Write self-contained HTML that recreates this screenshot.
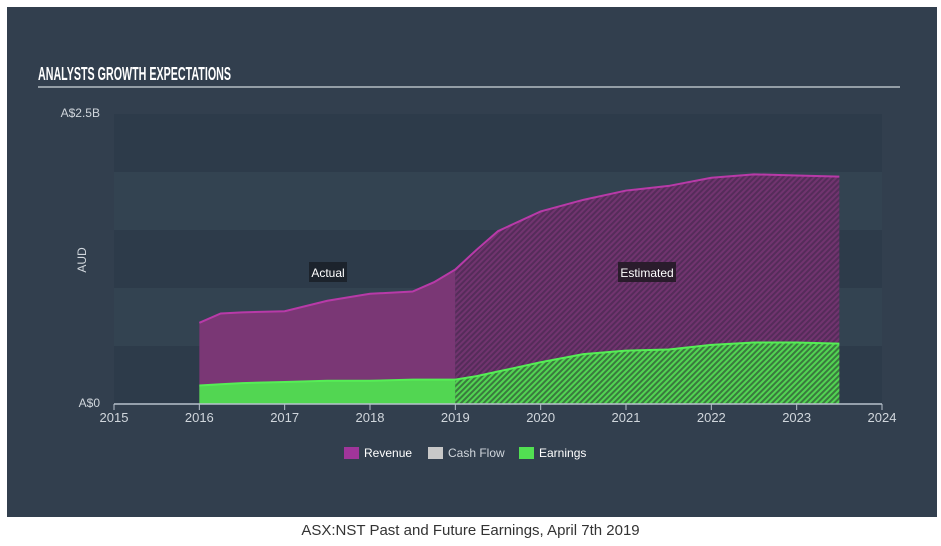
<!DOCTYPE html>
<html><head><meta charset="utf-8"><style>
body{margin:0;width:941px;height:546px;background:#fff;overflow:hidden;font-family:"Liberation Sans",sans-serif}
#panel{position:absolute;left:7px;top:7px;width:930px;height:510px;background:#323f4e}
#caption{position:absolute;left:0;width:941px;top:522px;text-align:center;font-size:15px;color:#333}
</style></head><body>
<div id="panel"></div>
<svg id="chart" width="941" height="546" style="position:absolute;left:0;top:0">
<defs>
<pattern id="hatchR" width="4" height="4" patternUnits="userSpaceOnUse" patternTransform="rotate(45)"><rect width="4" height="4" fill="#552c5a"/><rect width="2" height="4" fill="#71346f"/></pattern>
<pattern id="hatchG" width="4" height="4" patternUnits="userSpaceOnUse" patternTransform="rotate(45)"><rect width="4" height="4" fill="#3a7a3e"/><rect width="2" height="4" fill="#52d452"/></pattern>
</defs>
<text x="38" y="80" fill="#fff" font-family="Liberation Sans, sans-serif" font-weight="bold" font-size="18" textLength="193" lengthAdjust="spacingAndGlyphs">ANALYSTS GROWTH EXPECTATIONS</text>
<line x1="38" y1="87" x2="900" y2="87" stroke="#d0d6dc" stroke-width="1.2"/>
<g id="bands"></g>
<g id="areas"></g>
<g id="axis"></g>
<text x="100" y="117" text-anchor="end" fill="#d0d6dc" font-size="12">A$2.5B</text>
<text x="100" y="407" text-anchor="end" fill="#d0d6dc" font-size="12">A$0</text>
<text transform="translate(86,260) rotate(-90)" text-anchor="middle" fill="#d0d6dc" font-size="12">AUD</text>
<rect x="309" y="262" width="38" height="20" fill="#1c232c"/>
<text x="328" y="277" text-anchor="middle" fill="#fff" font-size="12">Actual</text>
<rect x="618" y="262" width="58" height="20" fill="#2a1c2c"/>
<text x="647" y="277" text-anchor="middle" fill="#fff" font-size="12">Estimated</text>
<g>
<rect x="344" y="447" width="15" height="12" fill="#a0359a"/>
<text x="364" y="457" fill="#fff" font-size="12">Revenue</text>
<rect x="428" y="447" width="15" height="12" fill="#c8c8c8"/>
<text x="448" y="457" fill="#d0d6dc" font-size="12">Cash Flow</text>
<rect x="519" y="447" width="15" height="12" fill="#52e052"/>
<text x="539" y="457" fill="#fff" font-size="12">Earnings</text>
</g>
</svg>
<div id="caption">ASX:NST Past and Future Earnings, April 7th 2019</div>
<script>
const years=[2016,2016.25,2016.5,2017,2017.5,2018,2018.5,2018.75,2019,2019.25,2019.5,2020,2020.5,2021,2021.5,2022,2022.5,2023,2023.5];
const revenue=[0.70,0.78,0.79,0.80,0.89,0.95,0.97,1.05,1.16,1.33,1.49,1.66,1.76,1.84,1.88,1.95,1.98,1.97,1.96];
const earnings=[0.16,0.17,0.18,0.19,0.20,0.20,0.21,0.21,0.21,0.24,0.28,0.36,0.43,0.46,0.47,0.51,0.53,0.53,0.52];
const xTicks=[2015,2016,2017,2018,2019,2020,2021,2022,2023,2024];
const splitYear=2019;
const NS='http://www.w3.org/2000/svg';
const X=v=>114+(v-2015)*(882-114)/9;
const Y=v=>404-v*(404-114)/2.5;
function mk(tag,attrs,parent){const e=document.createElementNS(NS,tag);for(const k in attrs)e.setAttribute(k,attrs[k]);parent.appendChild(e);return e;}
const bands=document.getElementById('bands');
for(let i=0;i<5;i++){
  const r=mk('rect',{x:114,y:Y(2.5-i*0.5),width:768,height:Y(0)-Y(0.5),fill:i%2==0?'#2d3b4a':'#334351'},bands);
  
  
}
const areas=document.getElementById('areas');
function areaPath(vals,from,to){
  const idx=years.map((y,i)=>i).filter(i=>years[i]>=from&&years[i]<=to);
  let d='M'+X(years[idx[0]])+','+Y(0);
  idx.forEach(i=>d+='L'+X(years[i])+','+Y(vals[i]));
  d+='L'+X(years[idx[idx.length-1]])+','+Y(0)+'Z';return d;
}
function linePath(vals){return years.map((y,i)=>(i?'L':'M')+X(y)+','+Y(vals[i])).join('');}
let e;
e=mk('path',{d:areaPath(revenue,2016,splitYear),fill:'#7a3775'},areas);


e=mk('path',{d:areaPath(revenue,splitYear,2024),fill:'url(#hatchR)'},areas);


e=mk('path',{d:linePath(revenue),fill:'none',stroke:'#b83aa8','stroke-width':2},areas);


e=mk('path',{d:areaPath(earnings,2016,splitYear),fill:'#52d652'},areas);


e=mk('path',{d:areaPath(earnings,splitYear,2024),fill:'url(#hatchG)'},areas);


e=mk('path',{d:linePath(earnings),fill:'none',stroke:'#55ee55','stroke-width':2},areas);


const axis=document.getElementById('axis');
e=mk('line',{x1:114,y1:404,x2:882,y2:404,stroke:'#b8c2cc','stroke-width':1.5},axis);


xTicks.forEach(t=>{
  const l=mk('line',{x1:X(t),y1:404,x2:X(t),y2:410,stroke:'#b8c2cc','stroke-width':1},axis);
  
  
  const tx=mk('text',{x:X(t),y:422,'text-anchor':'middle',fill:'#d0d6dc','font-size':13},axis);
  tx.textContent=t;
  
  
});
</script>
</body></html>
